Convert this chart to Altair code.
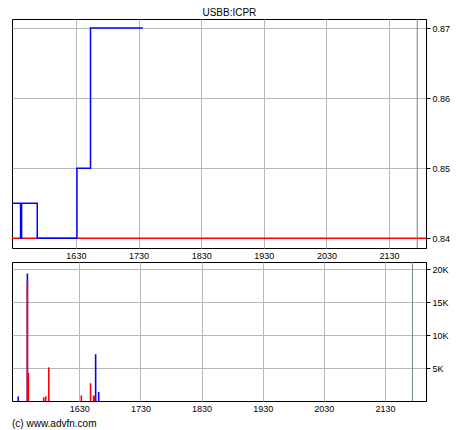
import altair as alt
import pandas as pd

# ---- data ----
price_times = ["15:29", "15:37", "15:38", "15:53", "16:31", "16:44", "17:34"]
price_values = [0.845, 0.840, 0.845, 0.840, 0.850, 0.870, 0.870]

vol_times = ["15:30", "15:39", "15:39", "15:40", "15:55", "15:57", "16:00",
             "16:32", "16:41", "16:44", "16:45", "16:46", "16:49"]
vol_values = [700, 19350, 18200, 4250, 550, 700, 5100,
              850, 2700, 850, 700, 7100, 1350]
vol_side = ["buy", "buy", "sell", "sell", "sell", "sell", "sell",
            "sell", "sell", "sell", "sell", "buy", "buy"]

prev_close = [0.84]
now_time = ["21:57"]
x_tick_times = ["16:30", "17:30", "18:30", "19:30", "20:30", "21:30"]
price_ticks = [0.84, 0.85, 0.86, 0.87]
vol_ticks = [5000, 10000, 15000, 20000]


def hrs(t):
    h, m = t.split(":")
    return int(h) + int(m) / 60.0


price_df = pd.DataFrame({"t": [hrs(t) for t in price_times], "p": price_values})
vol_df = pd.DataFrame({"t": [hrs(t) for t in vol_times], "v": vol_values, "side": vol_side})
prev_df = pd.DataFrame({"p": prev_close})
now_df = pd.DataFrame({"t": [hrs(t) for t in now_time]})
x_ticks = [hrs(t) for t in x_tick_times]

x_domain = [15.48, 22.09]
label_expr = ("format(floor(datum.value + 0.001), 'd') + "
              "format(round((datum.value - floor(datum.value + 0.001)) * 60), '02d')")

W = 414
FONT = "Liberation Sans"


def xenc():
    return alt.X("t:Q", scale=alt.Scale(domain=x_domain, nice=False, zero=False),
                 axis=alt.Axis(values=x_ticks, labelExpr=label_expr, title=None,
                               ticks=False, labelPadding=3, domain=False))


# ---- price panel ----
line = alt.Chart(price_df).mark_line(interpolate="step-after", color="#0000ff",
                                     strokeWidth=1.5).encode(
    x=xenc(),
    y=alt.Y("p:Q", scale=alt.Scale(domain=[0.8386, 0.8713], nice=False, zero=False),
            axis=alt.Axis(orient="right", values=price_ticks, format=".2f", title=None,
                          tickSize=4, labelPadding=2)),
)
prev_rule = alt.Chart(prev_df).mark_rule(color="#ff0000", strokeWidth=1.5).encode(y="p:Q")
now_rule_top = alt.Chart(now_df).mark_rule(color="#6f8585", strokeWidth=1).encode(x="t:Q")

top = alt.layer(prev_rule, now_rule_top, line).properties(width=W, height=229)

# ---- volume panel ----
bars = alt.Chart(vol_df).mark_bar(size=1.6).encode(
    x=xenc(),
    y=alt.Y("v:Q", stack=None, scale=alt.Scale(domain=[0, 21100], nice=False),
            axis=alt.Axis(orient="right", values=vol_ticks, title=None, tickSize=4,
                          labelPadding=2, labelExpr="datum.value / 1000 + 'K'")),
    color=alt.Color("side:N", scale=alt.Scale(domain=["buy", "sell"],
                                              range=["#0000ff", "#ff0000"]), legend=None),
    order=alt.Order("side:N"),
)
now_rule_bot = alt.Chart(now_df).mark_rule(color="#6f8585", strokeWidth=1).encode(x="t:Q")

bottom = alt.layer(now_rule_bot, bars).properties(
    width=W, height=139,
    title=alt.TitleParams("(c) www.advfn.com", orient="bottom", anchor="start",
                          fontSize=10, font=FONT, fontWeight="normal", offset=6),
)

chart = alt.vconcat(top, bottom, spacing=0).properties(
    title=alt.TitleParams("USBB:ICPR", fontSize=10, font=FONT, fontWeight="normal",
                          anchor="middle", offset=0),
    padding={"left": 0, "top": 0, "right": 0, "bottom": 0},
).configure_view(
    stroke="black", strokeWidth=1
).configure_axis(
    labelFont=FONT, labelFontSize=9, labelColor="black", tickColor="black",
    domainColor="black", gridColor="#b4b8b8", gridWidth=1,
).configure_concat(spacing=0)

chart.save("out.html", embed_options={"renderer": "svg", "actions": False})
